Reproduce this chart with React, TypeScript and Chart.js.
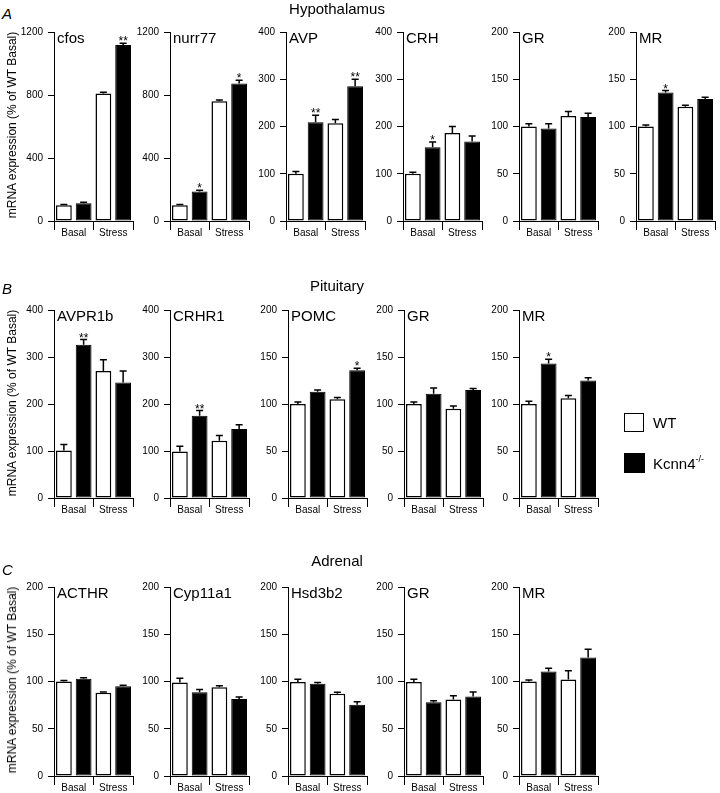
import React, { useEffect, useRef } from 'react';
import { Chart, registerables } from 'chart.js';
Chart.register(...registerables);

const FONT = '"Liberation Sans", Arial, Helvetica, sans-serif';
Chart.defaults.font.family = FONT;

const groups = ['Basal', 'Stress'];

// A: Hypothalamus
const hypGenes = ['cfos', 'nurr77', 'AVP', 'CRH', 'GR', 'MR'];
const hypMax = [1200, 1200, 400, 400, 200, 200];
const hypStep = [400, 400, 100, 100, 50, 50];
const hypWT = [[100, 810], [100, 760], [100, 207], [100, 186], [100, 111], [100, 121]];
const hypWTErr = [[4, 8], [4, 9], [5, 8], [3, 14], [3, 5], [1.5, 1.5]];
const hypKO = [[113, 1117], [188, 873], [209, 285], [156, 168], [98, 110], [136, 129]];
const hypKOErr = [[6, 12], [8, 20], [15, 15], [11, 12], [5, 4], [2, 2]];
const hypSig = [['', '**'], ['*', '*'], ['**', '**'], ['*', ''], ['', ''], ['*', '']];

// B: Pituitary
const pitGenes = ['AVPR1b', 'CRHR1', 'POMC', 'GR', 'MR'];
const pitMax = [400, 400, 200, 200, 200];
const pitStep = [100, 100, 50, 50, 50];
const pitWT = [[101, 270], [99, 122], [100, 105], [100, 95], [100, 106]];
const pitWTErr = [[13, 24], [11, 11], [2, 2], [2, 3], [3, 3]];
const pitKO = [[326, 246], [175, 147], [113, 136], [111, 115], [143, 125]];
const pitKOErr = [[11, 24], [11, 9], [2, 2], [6, 1.5], [4.5, 3]];
const pitSig = [['**', ''], ['**', ''], ['', '*'], ['', ''], ['*', '']];

// C: Adrenal
const adrGenes = ['ACTHR', 'Cyp11a1', 'Hsd3b2', 'GR', 'MR'];
const adrMax = [200, 200, 200, 200, 200];
const adrStep = [50, 50, 50, 50, 50];
const adrWT = [[100, 88], [99, 94], [99.5, 87], [99.5, 81], [100, 102]];
const adrWTErr = [[1, 1], [4.5, 1.5], [3, 1.5], [3, 4], [1.5, 9.5]];
const adrKO = [[103, 95], [88.5, 81.5], [97.5, 75.5], [78, 84], [110.5, 125.5]];
const adrKOErr = [[1, 1], [3, 2], [1.5, 3], [1.5, 5], [3.5, 8.5]];
const adrSig = [['', ''], ['', ''], ['', ''], ['', ''], ['', '']];

const Y_W = 40;
const PLOT_W = 79;
const PAD_TOP = 8;
const PAD_R = 3;
const X_H = 17;

type PanelProps = {
  gene: string; max: number; step: number;
  wt: number[]; wtErr: number[]; ko: number[]; koErr: number[]; sig: string[];
  axisX: number; plotTop: number; plotH: number;
};

function Panel(p: PanelProps) {
  const ref = useRef<HTMLCanvasElement>(null);
  useEffect(() => {
    const errs = [p.wtErr, p.koErr];
    const sigs = [['', ''], p.sig];
    const errorPlugin = {
      id: 'errbars',
      afterDatasetsDraw(chart: any) {
        const ctx = chart.ctx;
        const y = chart.scales.y;
        chart.data.datasets.forEach((ds: any, i: number) => {
          const meta = chart.getDatasetMeta(i);
          meta.data.forEach((bar: any, j: number) => {
            const v = ds.data[j];
            const yTop = y.getPixelForValue(v);
            const yE = y.getPixelForValue(v + errs[i][j]);
            ctx.save();
            ctx.strokeStyle = '#000';
            ctx.lineWidth = 1.5;
            ctx.beginPath();
            ctx.moveTo(bar.x, yTop);
            ctx.lineTo(bar.x, yE);
            ctx.moveTo(bar.x - 3.5, yE);
            ctx.lineTo(bar.x + 3.5, yE);
            ctx.stroke();
            const s = sigs[i][j];
            if (s) {
              ctx.fillStyle = '#000';
              ctx.font = '12px ' + FONT;
              ctx.textAlign = 'center';
              ctx.textBaseline = 'alphabetic';
              ctx.fillText(s, bar.x, yE + 2);
            }
            ctx.restore();
          });
        });
      },
    };
    const labelPlugin = {
      id: 'genelabel',
      afterDraw(chart: any) {
        const ctx = chart.ctx;
        const a = chart.chartArea;
        ctx.save();
        ctx.fillStyle = '#000';
        ctx.font = '15px ' + FONT;
        ctx.textAlign = 'left';
        ctx.textBaseline = 'alphabetic';
        ctx.fillText(p.gene, a.left + 3, a.top + 11);
        ctx.restore();
      },
    };
    const chart = new Chart(ref.current as HTMLCanvasElement, {
      type: 'bar',
      data: {
        labels: groups,
        datasets: [
          { label: 'WT', data: p.wt, backgroundColor: '#fff', borderColor: '#000', borderWidth: 1.5, borderSkipped: false },
          { label: 'Kcnn4-/-', data: p.ko, backgroundColor: '#000', borderColor: '#000', borderWidth: 1, borderSkipped: false },
        ],
      },
      options: {
        responsive: false,
        animation: false,
        events: [],
        layout: { padding: { top: PAD_TOP, right: PAD_R, left: 0, bottom: 0 } },
        plugins: { legend: { display: false }, tooltip: { enabled: false }, title: { display: false } },
        datasets: { bar: { categoryPercentage: 1.0, barPercentage: 0.8 } },
        scales: {
          x: {
            type: 'category',
            offset: true,
            grid: { offset: true, drawOnChartArea: false, drawTicks: true, tickLength: 9, color: '#000', lineWidth: 1 },
            border: { display: true, color: '#000', width: 1 },
            ticks: { color: '#000', font: { size: 10 }, padding: -3, maxRotation: 0, autoSkip: false },
            afterFit: (s: any) => { s.height = X_H; },
          },
          y: {
            min: 0,
            max: p.max,
            grid: { drawOnChartArea: false, drawTicks: true, tickLength: 6, color: '#000', lineWidth: 1 },
            border: { display: true, color: '#000', width: 1 },
            ticks: { stepSize: p.step, color: '#000', font: { size: 10 }, padding: 5, callback: (v: any) => String(v) },
            afterFit: (s: any) => { s.width = Y_W; },
          },
        },
      } as any,
      plugins: [errorPlugin, labelPlugin],
    });
    return () => chart.destroy();
  }, []);
  const w = Y_W + PLOT_W + PAD_R;
  const h = PAD_TOP + p.plotH + X_H;
  return (
    <canvas
      ref={ref}
      width={w}
      height={h}
      style={{ position: 'absolute', left: p.axisX - Y_W, top: p.plotTop - PAD_TOP, width: w, height: h }}
    />
  );
}

type RowProps = {
  genes: string[]; max: number[]; step: number[];
  wt: number[][]; wtErr: number[][]; ko: number[][]; koErr: number[][]; sig: string[][];
  axes: number[]; plotTop: number; plotBottom: number;
  title: string; titleY: number; letter: string; letterY: number;
};

function Row(r: RowProps) {
  const plotH = r.plotBottom - r.plotTop;
  const mid = (r.plotTop + r.plotBottom) / 2;
  return (
    <>
      {r.genes.map((g, i) => (
        <Panel key={g + i} gene={g} max={r.max[i]} step={r.step[i]} wt={r.wt[i]} wtErr={r.wtErr[i]}
          ko={r.ko[i]} koErr={r.koErr[i]} sig={r.sig[i]} axisX={r.axes[i]} plotTop={r.plotTop} plotH={plotH} />
      ))}
      <div style={{ position: 'absolute', left: 337, top: r.titleY, transform: 'translate(-50%,-50%)', fontSize: 15, whiteSpace: 'nowrap' }}>{r.title}</div>
      <div style={{ position: 'absolute', left: 2, top: r.letterY, transform: 'translateY(-50%)', fontSize: 15, fontStyle: 'italic' }}>{r.letter}</div>
      <div style={{ position: 'absolute', left: 12, top: mid, transform: 'translate(-50%,-50%) rotate(-90deg)', fontSize: 12, whiteSpace: 'nowrap' }}>
        mRNA expression (% of WT Basal)
      </div>
    </>
  );
}

export default function App() {
  return (
    <div style={{ position: 'absolute', left: 0, top: 0, width: 720, height: 793, overflow: 'hidden', background: '#fff', fontFamily: FONT, color: '#000' }}>
      <Row genes={hypGenes} max={hypMax} step={hypStep} wt={hypWT} wtErr={hypWTErr} ko={hypKO} koErr={hypKOErr} sig={hypSig}
        axes={[54, 170, 286, 403, 519, 636]} plotTop={29} plotBottom={221} title="Hypothalamus" titleY={8} letter="A" letterY={13} />
      <Row genes={pitGenes} max={pitMax} step={pitStep} wt={pitWT} wtErr={pitWTErr} ko={pitKO} koErr={pitKOErr} sig={pitSig}
        axes={[54, 170, 288, 404, 519]} plotTop={307} plotBottom={498} title="Pituitary" titleY={285} letter="B" letterY={288} />
      <Row genes={adrGenes} max={adrMax} step={adrStep} wt={adrWT} wtErr={adrWTErr} ko={adrKO} koErr={adrKOErr} sig={adrSig}
        axes={[54, 170, 288, 404, 519]} plotTop={584} plotBottom={776} title="Adrenal" titleY={560} letter="C" letterY={569} />
      <div style={{ position: 'absolute', left: 624, top: 413, width: 18, height: 17, border: '1.5px solid #000', background: '#fff' }} />
      <div style={{ position: 'absolute', left: 653, top: 422, transform: 'translateY(-50%)', fontSize: 15 }}>WT</div>
      <div style={{ position: 'absolute', left: 624, top: 453, width: 21, height: 20, background: '#000' }} />
      <div style={{ position: 'absolute', left: 653, top: 463, transform: 'translateY(-50%)', fontSize: 15, whiteSpace: 'nowrap' }}>
        Kcnn4<span style={{ fontSize: 9, position: 'relative', top: -7 }}>-/-</span>
      </div>
    </div>
  );
}
